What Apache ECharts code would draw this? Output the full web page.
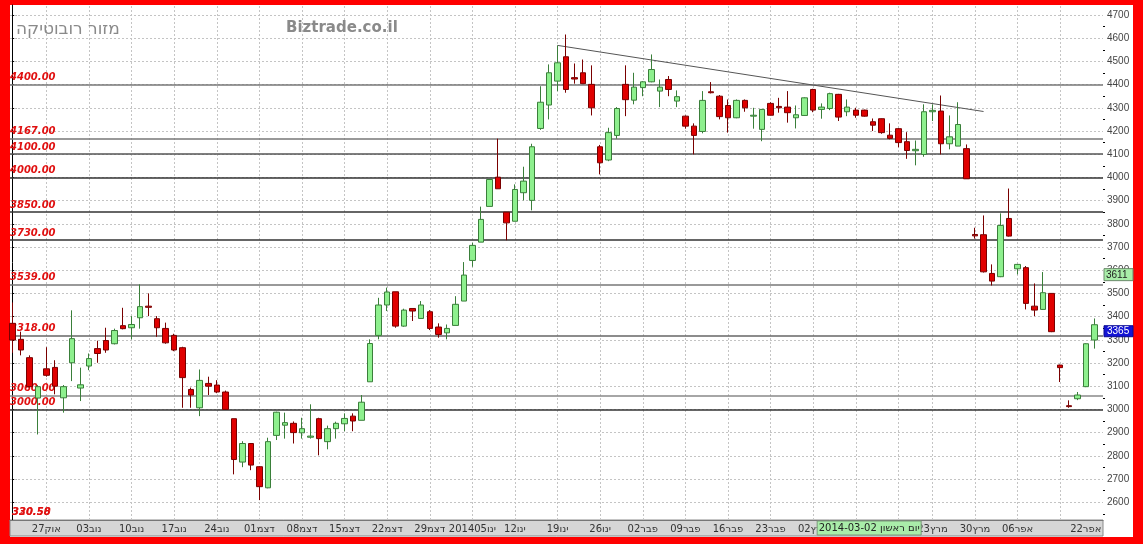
<!DOCTYPE html>
<html><head><meta charset="utf-8">
<script src="https://cdn.jsdelivr.net/npm/echarts@6/dist/echarts.min.js"></script>
<style>
html,body{margin:0;padding:0;background:#ff0000;width:1143px;height:544px;overflow:hidden}
#bg{position:absolute;left:10px;top:5px;width:1123px;height:532px;background:#fff}
#main{position:absolute;left:0;top:0;width:1143px;height:544px}
</style></head><body>
<div id="bg"></div><div id="main"></div>
<script>
// ---- data ----
const opens  = [3371,3302,3223,3049,3175,3181,3050,3201,3092,3187,3262,3297,3283,3361,3352,3395,3445,3391,3349,3319,
                3266,3086,3007,3112,3105,3075,2960,2773,2853,2753,2662,2888,2932,2940,2899,2880,2960,2861,2917,2938,
                2971,2953,3119,3319,3450,3507,3359,3435,3392,3421,3355,3330,3362,3467,3642,3721,3875,4001,3850,3811,
                3934,3901,4211,4312,4415,4520,4430,4451,4401,4132,4075,4181,4401,4333,4387,4412,4372,4422,4329,4264,
                4221,4198,4369,4350,4310,4257,4332,4264,4207,4319,4306,4303,4257,4267,4379,4293,4297,4358,4283,4290,
                4290,4240,4253,4182,4210,4154,4115,4099,4283,4286,4145,4135,4124,3754,3753,3586,3572,3823,3606,3611,
                3445,3431,3500,3191,3016,3046,3098,3299];
const closes = [3299,3256,3098,3098,3147,3100,3098,3305,3106,3219,3241,3256,3340,3348,3366,3443,3440,3352,3287,3256,
                3137,3062,3125,3100,3075,3000,2784,2853,2760,2667,2861,2988,2943,2900,2917,2885,2874,2917,2940,2961,
                2950,3031,3284,3450,3506,3359,3428,3424,3450,3349,3323,3349,3453,3579,3707,3819,3991,3951,3804,3948,
                3984,4132,4324,4451,4494,4379,4424,4404,4300,4063,4193,4297,4335,4389,4412,4465,4389,4379,4348,4221,
                4181,4332,4365,4262,4257,4332,4300,4268,4293,4268,4300,4279,4270,4343,4290,4303,4361,4260,4303,4268,
                4264,4225,4193,4168,4150,4116,4121,4283,4289,4145,4175,4228,3994,3748,3593,3553,3793,3747,3625,3457,
                3428,3503,3335,3180,3012,3062,3283,3365];
const lows   = [3244,3233,3095,2892,3141,3065,2986,3122,3036,3169,3201,3244,3280,3345,3302,3348,3402,3313,3283,3251,
                3007,3007,2971,3062,3070,2998,2720,2751,2738,2609,2660,2868,2874,2853,2874,2874,2802,2828,2874,2906,
                2906,2953,3119,3302,3424,3352,3356,3381,3390,3342,3309,3302,3362,3467,3615,3721,3875,3951,3729,3811,
                3901,3858,4205,4250,4372,4365,4404,4404,4267,4013,4070,4167,4264,4315,4350,4410,4303,4350,4303,4210,
                4099,4190,4362,4250,4193,4255,4283,4210,4156,4268,4279,4236,4211,4265,4281,4253,4290,4243,4264,4257,
                4262,4200,4188,4164,4130,4080,4052,4089,4243,4099,4121,4135,3994,3736,3590,3534,3570,3745,3582,3431,
                3402,3429,3333,3118,3007,3040,3096,3262];
const highs  = [3461,3335,3233,3105,3268,3212,3105,3427,3180,3241,3296,3352,3348,3438,3402,3539,3500,3402,3374,3326,
                3270,3094,3172,3141,3126,3081,2960,2863,2855,2755,2878,2990,2986,2948,2964,3022,2964,2930,2947,2983,
                2983,3062,3302,3481,3525,3507,3434,3435,3467,3428,3371,3366,3488,3635,3718,3874,3991,4167,3850,3970,
                4046,4145,4393,4487,4569,4616,4491,4508,4483,4140,4214,4303,4483,4451,4415,4530,4422,4437,4375,4267,
                4233,4372,4411,4355,4336,4336,4336,4300,4295,4324,4343,4372,4310,4345,4382,4319,4365,4360,4336,4300,
                4292,4254,4254,4233,4213,4195,4159,4315,4315,4353,4267,4324,4142,3783,3836,3625,3845,3952,3627,3618,
                3543,3592,3500,3193,3039,3075,3285,3392];

// x-axis date labels (candle index -> text)
const labelIdx  = [4,9,14,19,24,29,34,39,44,49,54,59,64,69,74,79,84,89,94,99,104,108,113,118,126];
const labelText = ['27אוק','03נוב','10נוב','17נוב','24נוב','01דצמ','08דצמ','15דצמ','22דצמ','29דצמ',
                   '201405ינו','12ינו','19ינו','26ינו','02פבר','09פבר','16פבר','23פבר','02מרץ','09מרץ',
                   '16מרץ','23מרץ','30מרץ','06אפר','22אפר'];
const weekGridIdx = [4,9,14,19,24,29,34,39,44,49,54,59,64,69,74,79,84,89,94,99,104,108,113,118,123];

// y-axis ticks
const yTicks = [2600,2700,2800,2900,3000,3100,3200,3300,3400,3500,3600,3700,3800,3900,4000,4100,4200,4300,4400,4500,4600,4700];
const yMinorTicks = [2550,2650,2750,2850,2950,3050,3150,3250,3350,3450,3550,3650,3750,3850,3950,4050,4150,4250,4350,4450,4550,4650];

// support / resistance levels and their line colours
const levels      = [4400,4167,4100,4000,3850,3730,3539,3318,3060,3000];
const levelColors = ['#777','#777','#555','#333','#333','#333','#777','#666','#888','#333'];

// trend line (candle index, price)
const trendStart = [64, 4569];
const trendEnd   = [114, 4284];

const lastPrice = 3365;
const markPrice = 3611;
const cursorDate = 'יום ראשון 2014-03-02';
const cursorIdx = 94;
const offChartLabels = ['330.58','320.50'];

// ---- chart ----
const chart = echarts.init(document.getElementById('main'), null, {renderer:'canvas'});
const candleData = opens.map((o,i)=>[i, o, closes[i], lows[i], highs[i]]);

const Y_MIN = 2523.3, Y_MAX = 4743.1;

const markData = [];
weekGridIdx.forEach(i => markData.push({xAxis:i, lineStyle:{color:'#c4c4c4', type:[2,2], width:1}, label:{show:false}}));
yTicks.forEach(v => markData.push({yAxis:v, lineStyle:{color:'#c4c4c4', type:[2,2], width:1}, label:{show:false}}));
levels.forEach((v,k) => markData.push({
  yAxis:v,
  lineStyle:{color:levelColors[k], type:'solid', width:1.5},
  label:{show:true, position:'insideStartTop', distance:[0,2], formatter: v.toFixed(2),
         color:'#e01010', fontSize:10, fontWeight:'bold', fontStyle:'italic', fontFamily:'DejaVu Sans'}
}));
markData.push([{coord:trendStart, lineStyle:{color:'#555', width:1, type:'solid'}, label:{show:false}}, {coord:trendEnd}]);

const option = {
  animation:false,
  backgroundColor:'transparent',
  title:[
    {text:'מזור רובוטיקה', left:11, top:16, textStyle:{color:'#8a8a8a', fontSize:17, fontWeight:'normal', fontFamily:'DejaVu Sans'}},
    {text:'Biztrade.co.il', left:281, top:16, textStyle:{color:'#8a8a8a', fontSize:15, fontWeight:'bold', fontFamily:'DejaVu Sans'}}
  ],
  grid:{left:10, right:40, top:5, bottom:24, outerBoundsMode:'none', containLabel:false},
  xAxis:{
    type:'value', min:-0.27, max:128.02,
    axisLine:{show:true, onZero:false, lineStyle:{color:'#777', width:1}},
    axisTick:{show:false},
    splitLine:{show:false},
    axisLabel:{customValues:labelIdx, formatter:(v)=>{const k=labelIdx.indexOf(v); return k>=0?labelText[k]:'';},
               color:'#333', fontSize:10, fontFamily:'DejaVu Sans', margin:4}
  },
  yAxis:[
    {type:'value', position:'right', min:Y_MIN, max:Y_MAX,
     axisLine:{show:true, lineStyle:{color:'#000', width:1}},
     axisTick:{show:true, customValues:yTicks, length:4, lineStyle:{color:'#000'}},
     axisLabel:{customValues:yTicks, formatter:(v)=>String(Math.round(v)), color:'#444', fontSize:10, fontFamily:'Liberation Sans', margin:4},
     splitLine:{show:false}},
    {type:'value', position:'right', min:Y_MIN, max:Y_MAX,
     axisLine:{show:false},
     axisTick:{show:true, customValues:yMinorTicks, length:2, lineStyle:{color:'#000'}},
     axisLabel:{show:false}, splitLine:{show:false}}
  ],
  series:[{
    type:'candlestick', xAxisIndex:0, yAxisIndex:0,
    encode:{x:0, y:[1,2,3,4]},
    data:candleData,
    barWidth:6,
    z:3,
    itemStyle:{color:'#8ef08e', borderColor:'#3a7f3a', color0:'#e00000', borderColor0:'#7a0000', borderWidth:1},
    markLine:{silent:true, symbol:['none','none'], z:1, animation:false, data:markData}
  }]
};
chart.setOption(option);

// annotations placed through the axes
const xCur = chart.convertToPixel({xAxisIndex:0}, cursorIdx) + 4;
const yLast = chart.convertToPixel({yAxisIndex:0}, lastPrice);
const yMark = chart.convertToPixel({yAxisIndex:0}, markPrice);
const axisX = chart.convertToPixel({xAxisIndex:0}, 128.02);
const plotL = chart.convertToPixel({xAxisIndex:0}, -0.27);
const plotB = chart.convertToPixel({yAxisIndex:0}, Y_MIN);

chart.setOption({graphic:[
  {type:'rect', z:-1, shape:{x:plotL, y:plotB, width:axisX-plotL, height:16}, style:{fill:'#d6d6d6', stroke:'#8a8a8a', lineWidth:1}},
  {type:'rect', z:50, shape:{x:xCur, y:plotB+1, width:104, height:14}, style:{fill:'#a9eda9', stroke:'#7a9a7a', lineWidth:1}},
  {type:'text', z:51, x:xCur+52, y:plotB+8, style:{text:cursorDate, fill:'#222', font:'10px "DejaVu Sans"', align:'center', verticalAlign:'middle'}},
  {type:'rect', z:50, shape:{x:axisX+1, y:yMark+1, width:29, height:12}, style:{fill:'#a9eda9', stroke:'#6a8a6a', lineWidth:1}},
  {type:'text', z:51, x:axisX+3, y:yMark+7.5, style:{text:String(markPrice), fill:'#222', font:'10px "Liberation Sans"', align:'left', verticalAlign:'middle'}},
  {type:'rect', z:50, shape:{x:axisX+1, y:yLast+1, width:29, height:11}, style:{fill:'#1414d4', stroke:'#0a0a90', lineWidth:1}},
  {type:'text', z:51, x:axisX+4, y:yLast+7, style:{text:String(lastPrice), fill:'#fff', font:'10px "Liberation Sans"', align:'left', verticalAlign:'middle'}},
  {type:'text', z:51, x:plotL+2, y:plotB-3, style:{text:offChartLabels[0], fill:'#e01010', font:'italic bold 10px "DejaVu Sans"', align:'left', verticalAlign:'bottom'}},
  {type:'text', z:51, x:plotL+2, y:plotB-3, style:{text:offChartLabels[1], fill:'#e01010', font:'italic bold 10px "DejaVu Sans"', align:'left', verticalAlign:'bottom', opacity:0.8}}
]});
</script>
</body></html>
